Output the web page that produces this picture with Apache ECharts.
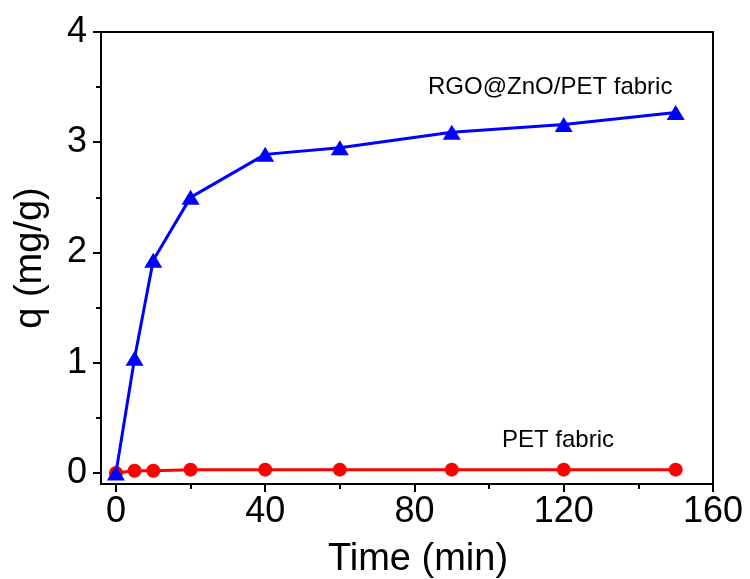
<!DOCTYPE html>
<html>
<head>
<meta charset="utf-8">
<style>
  html, body { margin: 0; padding: 0; background: #fff; }
  #chart { width: 750px; height: 579px; }
</style>
</head>
<body>
<div id="chart"></div>
<script src="https://cdn.jsdelivr.net/npm/echarts@6/dist/echarts.min.js"></script>
<script>
// time points (min)
var times = [0, 5, 10, 20, 40, 60, 90, 120, 150];
// adsorption q (mg/g)
var rgoZno = [0.0, 1.04, 1.93, 2.50, 2.89, 2.95, 3.09, 3.16, 3.27];
var petFab = [0.0, 0.02, 0.02, 0.03, 0.03, 0.03, 0.03, 0.03, 0.03];

var xMajor = [0, 40, 80, 120, 160];
var xMinor = [20, 60, 100, 140];
var yMajor = [0, 1, 2, 3, 4];
var yMinor = [0.5, 1.5, 2.5, 3.5];

function pairs(xs, ys) {
    var out = [];
    for (var i = 0; i < xs.length; i++) out.push([xs[i], ys[i]]);
    return out;
}

var font = 'Liberation Sans, Arial, sans-serif';

var chart = echarts.init(document.getElementById('chart'));

option = {
    animation: false,
    backgroundColor: '#fff',
    grid: {
        left: 101,
        top: 32,
        right: 37,
        bottom: 95,
        show: true,
        borderColor: '#000',
        borderWidth: 2,
        containLabel: false,
        outerBoundsMode: 'none'
    },
    xAxis: [{
        type: 'value',
        min: -4,
        max: 160,
        name: 'Time (min)',
        nameLocation: 'middle',
        nameGap: 57,
        nameTextStyle: { fontSize: 38, color: '#000', fontFamily: font, padding: [0, 0, 0, 22] },
        axisLine: { show: true, onZero: false, lineStyle: { color: '#000', width: 2 } },
        axisTick: { show: true, customValues: xMajor, length: 8, lineStyle: { color: '#000', width: 2 } },
        axisLabel: { customValues: xMajor, fontSize: 36, color: '#000', fontFamily: font, margin: 10 },
        splitLine: { show: false }
    }, {
        type: 'value',
        min: -4,
        max: 160,
        position: 'bottom',
        axisLine: { show: false, onZero: false },
        axisTick: { show: true, customValues: xMinor, length: 5, lineStyle: { color: '#000', width: 2 } },
        axisLabel: { show: false },
        splitLine: { show: false }
    }],
    yAxis: [{
        type: 'value',
        min: -0.1,
        max: 4,
        name: 'q (mg/g)',
        nameLocation: 'middle',
        nameGap: 51,
        nameTextStyle: { fontSize: 38, color: '#000', fontFamily: font },
        axisLine: { show: true, onZero: false, lineStyle: { color: '#000', width: 2 } },
        axisTick: { show: true, customValues: yMajor, length: 8, lineStyle: { color: '#000', width: 2 } },
        axisLabel: { customValues: yMajor, fontSize: 36, color: '#000', fontFamily: font, margin: 14 },
        splitLine: { show: false }
    }, {
        type: 'value',
        min: -0.1,
        max: 4,
        position: 'left',
        axisLine: { show: false, onZero: false },
        axisTick: { show: true, customValues: yMinor, length: 5, lineStyle: { color: '#000', width: 2 } },
        axisLabel: { show: false },
        splitLine: { show: false }
    }],
    series: [{
        name: 'PET fabric',
        type: 'line',
        data: pairs(times, petFab),
        symbol: 'circle',
        symbolSize: 14,
        itemStyle: { color: '#ff0000' },
        lineStyle: { color: '#ff0000', width: 3 },
        z: 3
    }, {
        name: 'RGO@ZnO/PET fabric',
        type: 'line',
        data: pairs(times, rgoZno),
        symbol: 'triangle',
        symbolSize: [18, 15],
        itemStyle: { color: '#0000ff' },
        lineStyle: { color: '#0000ff', width: 3 },
        z: 4
    }],
    graphic: [{
        type: 'text',
        left: 428,
        top: 75,
        style: { text: 'RGO@ZnO/PET fabric', fontSize: 24, fill: '#000', fontFamily: font }
    }, {
        type: 'text',
        left: 502,
        top: 428,
        style: { text: 'PET fabric', fontSize: 24, fill: '#000', fontFamily: font }
    }]
};

chart.setOption(option);
window.addEventListener('resize', function () {
    chart.resize();
});
</script>
</body>
</html>
